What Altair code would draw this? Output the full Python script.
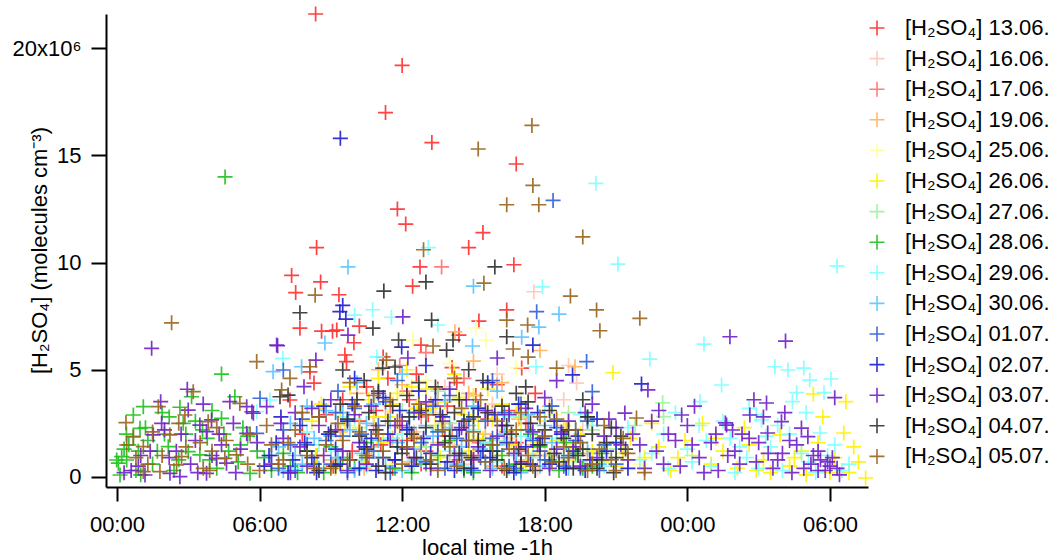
import altair as alt
import pandas as pd

# ---- data: (local time in hours, [H2SO4] in 1e6 molecules cm-3) ----
S1306 = [(8.36,21.6),(12.0,19.2),(11.3,17.0),(13.25,15.6),(16.8,14.6),(11.8,12.5),(12.15,11.8),(8.4,10.7),
         (15.4,11.4),(14.8,10.7),(12.75,9.8),(16.7,9.9),(7.35,9.4),(8.57,9.1),(7.52,8.6),(9.34,8.5),(12.44,8.9),
         (7.7,6.94),(8.61,6.8),(9.07,6.8),(9.25,6.85),(10.2,7.04),(9.97,6.26),(9.59,5.69),(9.66,5.38),(8.29,4.38),
         (8.12,4.9),(12.79,6.15),(14.39,6.62),(15.23,7.27),(16.4,7.79),(17.03,5.08),(10.5,4.2),(10.9,3.1),(11.4,4.6),
         (11.9,2.4),(12.3,3.6),(12.6,4.8),(13.1,2.9),(13.5,4.1),(13.9,3.3),(14.3,4.4),(14.7,2.2),(15.1,3.8),(15.6,2.7),
         (16.0,4.3),(16.5,3.1),(17.2,2.5),(17.6,3.9),(11.1,1.5),(13.0,1.2),(15.0,1.0),(16.8,1.6),(10.2,2.6),(9.5,3.6),
         (8.8,2.9),(9.9,1.2),(7.28,3.59),(7.8,2.0),(8.4,1.0),(9.1,0.5),(10.6,0.9),(11.6,0.4),(12.8,0.6),(13.8,1.9),
         (14.4,0.8),(15.4,1.6),(16.2,0.5),(17.0,0.3),(17.8,1.0),(12.2,1.7),(14.1,5.1),(11.2,5.6)]
S1606 = [(17.54,8.64),(19.34,4.38),(12.5,2.1),(13.4,3.0),(14.2,1.5),(15.0,2.6),(15.8,3.4),(16.5,1.8),(17.2,2.9),
         (18.0,1.2),(18.8,3.6),(19.6,2.2),(13.8,4.2),(16.0,4.8),(19.0,5.2),(14.6,0.6),(17.7,0.4)]
S1706 = [(13.66,9.8),(13.0,5.8),(12.2,4.0),(12.8,2.8),(13.5,3.6),(14.1,2.2),(14.6,4.6),(15.2,1.6),(15.8,3.0),
         (16.4,2.1),(11.5,3.3),(10.8,2.4),(17.0,1.2),(11.9,5.2)]
S1906 = [(14.22,6.77),(19.27,5.14),(8.5,3.2),(9.4,2.1),(10.1,3.9),(10.7,1.4),(11.3,2.8),(12.0,4.3),(12.6,1.9),
         (13.2,3.4),(13.8,2.5),(14.8,3.9),(15.5,2.0),(16.2,4.4),(16.9,2.7),(17.5,1.5),(18.2,3.3),(18.9,2.2),
         (19.8,1.1),(11.0,5.0),(15.0,5.4),(17.8,5.9),(9.0,0.8),(10.4,0.4),(12.3,0.7),(14.0,1.0),(15.8,0.5),
         (17.2,0.8),(18.6,0.6),(11.6,1.8),(13.5,1.6)]
S2506 = [(12.45,6.39),(15.1,6.95),(15.52,6.39),(13.0,4.5),(11.2,3.6),(11.8,2.2),(12.4,3.0),(13.6,2.6),(14.3,3.8),
         (14.9,1.9),(15.6,3.2),(16.3,2.4),(17.0,3.7),(17.7,1.8),(18.4,2.9),(19.1,1.5),(19.9,2.6),(20.6,1.3),
         (21.3,0.9),(10.5,1.6),(16.8,5.1),(14.0,5.3),(11.5,0.6),(12.8,1.6),(14.6,0.9),(16.0,1.0),(17.4,0.6),
         (18.8,0.8),(20.2,0.4),(22.0,0.6)]
S2606 = [(8.2,2.6),(8.6,3.4),(9.0,1.9),(9.4,3.0),(9.8,4.2),(10.2,2.3),(10.6,3.6),(11.0,4.6),(11.4,2.8),(11.8,3.9),
         (12.2,5.0),(12.6,3.2),(13.0,4.1),(13.4,2.4),(13.8,3.5),(14.2,4.8),(14.6,2.9),(15.0,3.8),(15.4,1.8),
         (15.8,2.7),(16.2,3.4),(16.6,1.5),(17.0,2.2),(17.5,1.1),(18.0,2.6),(18.5,1.7),(19.0,0.8),(19.5,2.0),
         (20.0,1.2),(20.87,4.86),(21.0,0.5),(21.6,1.8),(22.2,0.9),(22.8,1.4),(23.3,0.3),(23.9,1.7),(24.64,2.5),
         (25.0,0.6),(25.5,1.2),(26.1,0.4),(26.6,1.5),(27.2,0.8),(27.9,1.96),(28.3,0.5),(28.8,1.2),(29.3,3.87),
         (29.7,2.8),(30.2,0.9),(30.58,2.05),(30.67,3.51),(31.0,1.4),(31.5,-0.05),(26.4,2.3),(24.2,1.0),(29.0,0.1),
         (30.8,0.2),(22.5,2.5),(27.5,0.2),(8.4,1.0),(9.2,0.4),(9.6,2.4),(10.4,1.0),(10.8,2.8),(11.2,1.6),(11.6,3.4),
         (12.0,2.0),(12.4,4.2),(12.8,1.4),(13.2,3.2),(13.6,0.9),(14.0,2.2),(14.4,3.7),(14.8,1.2),(15.2,2.6),
         (15.6,4.1),(16.0,1.0),(16.4,2.2),(16.8,3.0),(17.2,0.5),(17.7,1.6),(18.2,1.0),(18.8,2.4),(19.3,1.3),
         (20.4,0.7),(21.3,1.1),(23.6,0.9),(25.2,1.8),(26.9,0.3),(28.5,0.9),(29.5,1.6),(31.2,0.7),(30.0,0.2)]
S2706 = [(22.96,3.46),(23.0,2.81),(11.0,2.0),(12.0,3.1),(13.0,1.4),(14.0,2.5),(15.0,3.3),(16.0,1.7),(17.0,2.8),
         (18.0,1.9),(19.0,3.0),(20.0,2.2),(21.0,1.3),(21.8,2.4),(10.3,0.8),(12.5,0.5),(16.5,0.4),(19.5,0.7),
         (13.5,4.0)]
S2806 = [(-0.01,0.79),(0.13,0.09),(0.41,0.79),(0.2,0.95),(0.06,0.64),(0.69,1.88),(0.69,2.89),(1.11,3.28),
         (0.97,2.27),(0.5,1.5),(0.9,1.2),(2.16,1.41),(2.65,3.25),(2.79,2.5),(3.14,3.74),(3.0,1.18),(3.49,1.03),
         (4.4,2.73),(4.4,4.8),(4.55,14.0),(4.96,3.74),(5.6,0.17),(1.5,0.6),(2.0,2.0),(3.8,1.8),(4.2,0.4),(5.3,2.3),
         (1.3,1.7),(2.4,0.3),(3.3,2.6),(5.9,1.2),(6.5,0.3),(7.0,1.1),(7.6,0.2),(8.3,0.6),(9.0,1.4),(10.0,0.4),
         (11.2,0.9),(12.4,0.2),(13.5,1.0),(14.6,0.3),(15.7,1.5),(16.8,0.6),(17.4,2.0),(18.2,0.8),(18.9,1.6),
         (19.6,0.4),(20.4,1.1),(15.2,3.2),(19.8,2.8),(0.3,1.3),(0.8,0.3),(1.2,2.3),(1.7,1.2),(2.2,2.8),(2.6,0.8),
         (3.6,2.2),(4.0,3.1),(4.7,1.2),(5.1,0.7),(5.5,1.9),(6.2,0.9),(7.3,0.5),(8.0,1.2),(8.7,0.2),(9.5,0.9),
         (10.5,1.6),(11.7,0.4),(13.0,0.6),(14.0,1.7),(15.0,0.2),(16.2,1.0),(17.0,0.3),(17.8,1.4),(18.6,0.3),
         (19.3,1.1),(20.0,0.5),(0.4,2.0),(1.0,0.1),(1.9,3.0),(2.9,2.0),(3.9,0.8),(4.5,2.0),(5.2,1.5)]
S2906 = [(13.1,10.7),(20.15,13.7),(21.08,9.93),(17.9,8.87),(30.3,9.84),(10.0,7.55),(10.76,7.8),(11.55,7.45),
         (13.5,7.09),(17.63,5.14),(10.93,5.6),(6.98,5.53),(24.7,6.2),(22.42,5.5),(25.44,4.29),(24.53,3.51),
         (27.68,5.14),(28.23,4.99),(28.9,5.08),(29.15,4.52),(30.04,4.57),(28.6,3.93),(28.42,3.51),(29.75,3.93),
         (27.12,2.66),(29.58,2.05),(6.44,3.59),(5.88,3.04),(8.0,2.1),(9.0,1.2),(10.0,2.7),(11.0,0.9),(12.0,2.0),
         (13.0,3.0),(14.0,1.2),(15.0,2.2),(16.0,0.7),(17.0,1.9),(18.0,3.1),(19.0,1.0),(20.0,2.4),(21.0,1.6),
         (22.0,0.8),(23.0,2.0),(24.0,1.3),(25.0,0.5),(25.8,1.8),(26.5,0.9),(27.5,1.4),(28.0,0.3),(28.8,1.1),
         (29.4,0.2),(30.2,1.5),(30.8,0.6),(24.5,2.4),(26.9,2.9),(23.5,3.0),(26.0,0.2),(27.8,2.4),(7.5,0.4),(8.5,1.5),
         (9.5,2.8),(10.5,0.5),(11.5,1.8),(12.5,0.8),(13.5,2.2),(14.5,0.5),(15.5,1.6),(16.5,2.8),(17.5,0.9),
         (18.5,1.8),(19.5,2.9),(20.5,0.5),(21.5,2.3),(22.5,1.1),(23.2,0.4),(24.2,0.7),(24.8,1.7),(25.5,2.6),
         (26.2,1.4),(27.0,0.4),(27.3,1.9),(28.3,2.0),(29.1,0.7),(29.9,1.0),(30.5,0.3),(26.6,3.2),(29.0,3.0)]
S3006 = [(9.72,9.8),(8.75,6.25),(6.57,4.91),(7.77,5.14),(15.0,8.9),(18.6,7.6),(17.75,6.99),(14.96,6.11),
         (17.03,6.52),(6.8,1.4),(7.3,2.5),(7.8,0.6),(8.3,1.8),(8.8,3.1),(9.3,0.9),(9.8,2.2),(10.3,1.1),(10.8,3.4),
         (11.3,0.5),(11.8,1.6),(12.3,2.8),(12.8,0.8),(13.3,1.9),(13.8,3.6),(14.3,0.6),(14.8,2.4),(15.3,1.3),
         (15.8,0.4),(16.3,2.0),(16.8,1.0),(17.3,2.9),(17.8,0.5),(18.3,1.6),(18.8,0.9),(19.3,2.2),(19.8,1.3),
         (20.3,0.6),(10.1,4.4),(12.0,4.8),(16.0,4.0),(7.0,0.3),(7.5,1.0),(8.0,3.3),(8.5,0.4),(9.0,1.9),(9.5,3.0),
         (10.0,0.3),(10.5,2.5),(11.0,1.7),(11.5,2.6),(12.0,0.3),(12.5,1.3),(13.0,2.4),(13.5,0.4),(14.0,2.3),
         (14.5,1.4),(15.0,3.3),(15.5,0.7),(16.0,1.5),(16.5,3.0),(17.0,0.2),(17.5,1.8),(18.0,2.4),(19.0,0.4)]
S0107 = [(18.35,12.9),(19.76,5.38),(17.66,7.71),(5.88,2.03),(6.02,3.67),(7.0,4.99),(20.0,3.98),(6.5,1.0),
         (7.0,2.2),(7.5,0.3),(8.0,1.5),(8.5,2.8),(9.0,0.6),(9.5,1.9),(10.0,3.2),(10.5,0.9),(11.0,2.4),(11.5,0.2),
         (12.0,1.4),(12.5,3.0),(13.0,0.7),(13.5,2.1),(14.0,3.8),(14.5,1.0),(15.0,0.3),(15.5,2.6),(16.0,1.2),
         (16.5,0.5),(17.0,3.4),(17.5,1.7),(18.0,0.8),(18.5,2.3),(19.0,1.0),(19.5,0.4),(20.5,1.5),(21.0,0.6),
         (11.8,4.5),(9.3,4.0),(15.8,4.5),(6.8,0.4),(7.3,1.5),(7.8,2.7),(8.3,0.6),(8.8,1.7),(9.2,3.0),(9.7,0.2),
         (10.3,2.0),(10.8,1.2),(11.3,3.5),(11.7,0.8),(12.3,2.3),(12.8,1.6),(13.3,3.3),(13.8,0.4),(14.3,1.8),
         (14.8,2.7),(15.3,0.9),(15.8,1.8),(16.3,3.0),(16.8,0.4),(17.3,2.2),(17.8,1.2),(18.3,3.3),(18.8,0.5),
         (19.3,1.7),(19.8,2.6),(20.3,0.3)]
S0207 = [(9.4,15.8),(9.38,7.71),(9.63,7.36),(9.5,8.0),(11.98,6.06),(17.5,6.15),(19.17,4.76),(22.07,4.34),
         (6.2,0.5),(6.7,1.6),(7.2,0.2),(7.7,2.4),(8.2,0.9),(8.7,3.3),(9.2,1.3),(9.7,2.6),(10.2,0.4),(10.7,1.8),
         (11.2,3.7),(11.7,0.8),(12.2,2.2),(12.7,4.0),(13.2,1.1),(13.7,2.8),(14.2,0.3),(14.7,1.7),(15.2,3.2),
         (15.7,0.9),(16.2,2.4),(16.7,0.2),(17.2,1.4),(17.7,3.0),(18.2,0.6),(18.7,2.0),(19.2,1.2),(19.7,0.3),
         (20.2,2.7),(21.0,1.6),(21.5,0.4),(13.0,5.2),(10.0,4.6),(15.6,4.4),(6.4,1.0),(6.9,2.8),(7.4,0.8),(7.9,1.6),
         (8.4,0.2),(8.9,2.0),(9.4,0.6),(9.9,3.4),(10.4,1.4),(10.9,0.3),(11.4,2.0),(11.9,3.1),(12.4,0.5),(12.9,1.8),
         (13.4,3.6),(13.9,0.7),(14.4,2.2),(14.9,0.4),(15.4,1.2),(15.9,2.9),(16.4,1.6),(16.9,3.4),(17.4,0.6),
         (17.9,1.8),(18.4,2.6),(18.9,0.4),(19.4,1.9),(19.9,0.8),(20.6,1.2)]
S0307 = [(1.46,6.0),(2.96,4.09),(3.63,3.4),(1.84,3.51),(1.88,2.5),(3.0,3.12),(4.75,3.51),(3.98,2.66),(3.49,2.42),
         (3.77,2.11),(1.53,1.96),(1.18,0.09),(2.23,0.17),(2.65,0.01),(3.77,0.17),(4.19,0.87),(4.61,0.64),(5.46,2.03),
         (5.74,2.97),(5.46,3.28),(5.68,3.04),(6.3,3.28),(6.72,6.15),(0.9,0.5),(2.5,1.2),(3.3,1.7),(4.4,1.5),(5.0,0.2),
         (2.0,2.2),(0.6,0.3),(1.0,1.0),(3.1,0.6),(6.76,6.12),(7.87,4.21),(8.37,5.45),(9.72,6.62),(12.03,7.47),
         (12.24,5.55),(16.0,5.55),(18.5,4.49),(22.34,4.06),(23.76,2.89),(21.37,2.98),(25.6,2.52),(25.9,2.19),
         (25.79,6.54),(28.13,6.34),(30.2,3.7),(27.33,3.45),(26.63,2.89),(27.96,2.58),(28.8,2.28),(29.07,1.88),
         (25.65,2.42),(27.38,2.05),(7.0,1.8),(7.5,3.0),(8.0,0.5),(8.5,2.4),(9.0,3.6),(9.5,1.2),(10.0,2.9),(10.5,0.6),
         (11.0,3.9),(11.5,1.7),(12.0,2.6),(12.5,0.9),(13.0,3.5),(13.5,1.5),(14.0,4.1),(14.5,2.3),(15.0,0.8),(15.5,3.1),
         (16.0,1.9),(16.5,2.9),(17.0,0.7),(17.5,2.1),(18.0,3.7),(18.5,1.3),(19.0,2.6),(19.5,0.5),(20.0,3.4),(20.5,1.9),
         (21.0,2.3),(21.5,0.8),(22.0,1.5),(22.5,2.6),(23.0,0.6),(23.5,1.7),(24.0,2.4),(24.5,0.9),(25.0,1.6),(25.3,0.3),
         (26.0,1.2),(26.3,2.0),(26.9,0.7),(27.0,1.6),(27.6,0.4),(28.0,1.1),(28.4,0.2),(28.6,1.5),(29.2,0.6),(29.5,1.2),
         (29.8,0.3),(30.1,0.9),(30.4,0.1),(29.6,0.8),(30.0,0.5),(26.8,3.6),(24.3,3.3),(22.8,3.1),(27.2,2.8),(28.1,3.0),
         (6.5,0.6),(6.9,2.5),(7.3,0.2),(7.7,1.4),(8.2,3.2),(8.7,1.0),(9.2,2.2),(9.7,0.3),(10.2,1.6),(10.7,3.3),
         (11.2,0.9),(11.7,2.4),(12.2,1.3),(12.7,3.0),(13.2,0.4),(13.7,2.6),(14.2,1.0),(14.7,3.6),(15.2,1.4),(15.7,0.3),
         (16.2,2.4),(16.7,1.1),(17.2,3.2),(17.7,1.5),(18.2,0.4),(18.7,2.1),(19.2,1.4),(19.7,3.0),(20.2,0.9),(20.7,2.7),
         (21.2,1.5),(21.7,2.0),(22.2,0.4),(22.7,1.2),(23.2,2.0),(23.7,0.5),(24.2,1.5),(24.7,0.2),(25.2,2.0),(25.7,1.0),
         (26.2,0.6),(26.6,1.8),(27.4,1.1),(27.8,0.8),(28.3,1.7),(28.9,0.4),(29.3,1.0),(29.9,0.7),(30.3,0.4),(29.5,0.3),
         (0.3,0.2),(1.4,1.2),(2.7,2.0),(4.0,1.0),(4.9,2.5),(5.9,1.6),(2.2,0.9),(3.4,0.2),(4.3,2.0),(5.2,1.3)]
S0407 = [(11.23,8.67),(13.0,9.1),(15.9,9.8),(7.7,7.66),(10.77,6.94),(13.24,7.32),(11.85,6.39),(14.14,6.39),
         (16.4,6.54),(13.87,5.92),(11.18,5.08),(11.7,5.13),(9.5,4.99),(7.2,3.82),(6.86,3.74),(8.0,1.2),(8.5,0.3),
         (9.0,2.1),(9.4,3.4),(9.8,0.8),(10.2,1.9),(10.6,3.0),(11.0,0.5),(11.4,2.6),(11.8,1.4),(12.2,3.8),(12.6,0.9),
         (13.0,2.3),(13.4,4.2),(13.8,1.6),(14.2,3.0),(14.6,0.4),(15.0,2.8),(15.4,4.5),(15.8,1.2),(16.2,3.3),
         (16.6,2.0),(17.0,0.6),(17.4,2.5),(17.8,1.5),(18.2,3.1),(18.6,0.7),(19.0,2.2),(19.4,1.0),(19.8,2.8),
         (20.2,0.4),(20.6,1.6),(21.0,0.9),(21.4,1.3),(12.4,2.0),(14.4,1.1),(16.4,0.3),(10.4,4.5),(14.8,5.0),
         (17.2,4.2),(19.6,3.6),(20.8,2.3),(9.2,0.5),(9.7,2.7),(10.1,3.6),(10.5,1.3),(10.9,2.2),(11.3,0.2),(11.6,3.3),
         (12.0,1.1),(12.3,2.8),(12.8,3.1),(13.2,0.6),(13.6,2.9),(14.0,1.9),(14.4,3.6),(14.9,0.9),(15.2,1.7),
         (15.6,3.0),(16.0,0.8),(16.4,2.4),(16.9,1.3),(17.3,3.5),(17.6,0.3),(18.0,2.2),(18.4,1.1),(18.8,1.8),
         (19.2,0.4),(19.6,1.3),(20.0,2.0),(20.4,0.8),(20.9,0.2),(21.2,1.9),(12.7,4.4),(11.0,4.0),(16.8,3.9),(14.6,2.6)]
S0507 = [(2.3,7.19),(5.88,5.38),(3.21,3.98),(0.38,2.53),(0.41,1.49),(1.74,3.28),(0.69,1.88),(2.23,1.96),
         (1.11,1.41),(1.11,0.25),(1.81,0.25),(2.51,0.56),(2.72,0.95),(3.63,0.4),(3.84,2.58),(2.86,2.89),(4.54,0.87),
         (5.03,1.03),(5.17,3.43),(7.28,4.6),(6.93,4.06),(8.34,8.48),(8.12,5.14),(11.34,5.45),(12.9,10.6),(15.2,15.3),
         (17.46,16.4),(17.5,13.6),(16.4,12.7),(17.75,12.7),(19.6,11.2),(15.44,9.04),(19.08,8.44),(20.18,7.79),
         (22.0,7.4),(20.32,6.82),(16.4,7.32),(17.28,7.09),(13.3,6.11),(16.67,5.97),(17.3,5.59),(18.5,5.08),
         (21.86,2.75),(6.0,0.3),(6.5,1.5),(7.0,0.8),(7.5,2.2),(8.0,1.0),(8.5,2.8),(9.0,0.4),(9.5,1.7),(10.0,3.3),
         (10.5,1.0),(11.0,2.0),(11.5,3.6),(12.0,0.6),(12.5,1.8),(13.0,2.9),(13.5,0.3),(14.0,1.4),(14.5,3.2),
         (15.0,2.1),(15.5,0.7),(16.0,2.6),(16.5,1.3),(17.0,3.0),(17.5,0.5),(18.0,1.9),(18.5,2.7),(19.0,0.9),
         (19.5,1.6),(20.0,0.6),(20.5,2.4),(21.0,0.3),(21.5,1.1),(22.2,0.2),(9.8,4.4),(14.2,4.6),(3.5,1.6),
         (4.2,2.3),(1.5,2.1),(0.8,0.9),(1.9,1.0),(2.9,1.4),(3.9,0.3),(4.6,1.7),(5.5,0.6),(6.3,2.4),(6.8,0.6),
         (7.2,1.6),(7.8,3.0),(8.3,0.4),(8.8,1.5),(9.3,2.5),(9.7,0.8),(10.2,2.1),(10.8,3.8),(11.2,1.2),(11.8,2.6),
         (12.2,1.4),(12.7,3.4),(13.2,0.8),(13.7,2.2),(14.3,0.5),(14.8,1.7),(15.3,3.6),(15.8,1.5),(16.3,0.4),
         (16.8,2.2),(17.3,1.0),(17.8,2.8),(18.3,0.7),(18.8,1.4),(19.3,2.2),(19.8,0.3),(20.3,1.3),(20.8,0.8),(21.3,1.8),
         (1.3,0.6),(2.6,2.5),(4.0,1.2),(5.6,2.0)]

DATES = ["13.06.", "16.06.", "17.06.", "19.06.", "25.06.", "26.06.", "27.06.", "28.06.",
         "29.06.", "30.06.", "01.07.", "02.07.", "03.07.", "04.07.", "05.07."]
SERIES = [S1306, S1606, S1706, S1906, S2506, S2606, S2706, S2806,
          S2906, S3006, S0107, S0207, S0307, S0407, S0507]
COLORS = ["#FF2E2E", "#FFC8B8", "#FF7070", "#FFB25E", "#FFFF99", "#FFF200", "#9CF59C", "#1FC21F",
          "#80FFFF", "#5CC4FF", "#3060D8", "#1C1CD0", "#7020C8", "#303030", "#98641E"]

NAMES = ["[H\u2082SO\u2084] " + d for d in DATES]

rows = []
k = 0
for name, pts in zip(NAMES, SERIES):
    for (t, v) in pts:
        rows.append({"series": name, "t": t, "v": v, "idx": k})
        k += 1
df = pd.DataFrame(rows)

CROSS = "M-1,0L1,0M0,-1L0,1"
FONT = "Liberation Sans"
FS = 22

chart = alt.Chart(df).mark_point(
    shape=CROSS, size=225, filled=False, strokeWidth=1.7, opacity=0.9, clip=False
).encode(
    x=alt.X("t:Q",
            scale=alt.Scale(domain=[-0.46, 31.6], nice=False, zero=False),
            axis=alt.Axis(values=[0, 6, 12, 18, 24, 30],
                          labelExpr="(datum.value % 24 < 10 ? '0' : '') + (datum.value % 24) + ':00'",
                          title="local time -1h", grid=False, tickSize=14, tickWidth=2,
                          domainWidth=2, domainColor="black", tickColor="black",
                          labelFont=FONT, labelFontSize=FS, labelColor="black", labelPadding=13,
                          titleFont=FONT, titleFontSize=FS, titleFontWeight="normal", titleColor="black",
                          titleX=381, titleY=60, titleBaseline="middle", titleAlign="center")),
    y=alt.Y("v:Q",
            scale=alt.Scale(domain=[-0.47, 21.6], nice=False, zero=False),
            axis=alt.Axis(values=[0, 5, 10, 15, 20],
                          labelExpr="datum.value == 20 ? '20x10\u2076' : datum.label",
                          title="[H\u2082SO\u2084] (molecules cm\u207b\u00b3)", grid=False, tickSize=15,
                          tickWidth=2, domainWidth=2, domainColor="black", tickColor="black",
                          labelFont=FONT, labelFontSize=FS, labelColor="black", labelPadding=10,
                          titleFont=FONT, titleFontSize=FS, titleFontWeight="normal", titleColor="black",
                          titleAngle=270, titleX=-67, titleY=236, titleBaseline="middle",
                          titleAlign="center")),
    color=alt.Color("series:N",
                    scale=alt.Scale(domain=NAMES, range=COLORS),
                    legend=alt.Legend(title=None, orient="none", legendX=760, legendY=3,
                                      symbolType=CROSS, symbolSize=225, symbolStrokeWidth=1.6,
                                      symbolOpacity=0.9, labelFont=FONT, labelFontSize=FS,
                                      labelColor="black", labelOffset=17, rowPadding=8.6,
                                      padding=0, labelLimit=300)),
    order=alt.Order("idx:Q"),
).properties(
    width=762, height=473,
    autosize=alt.AutoSizeParams(type="none"),
    padding={"left": 106, "top": 14, "right": 184, "bottom": 73},
    background="white",
).configure_view(strokeWidth=0)

chart.save("out.html", embed_options={"renderer": "svg", "actions": False})
